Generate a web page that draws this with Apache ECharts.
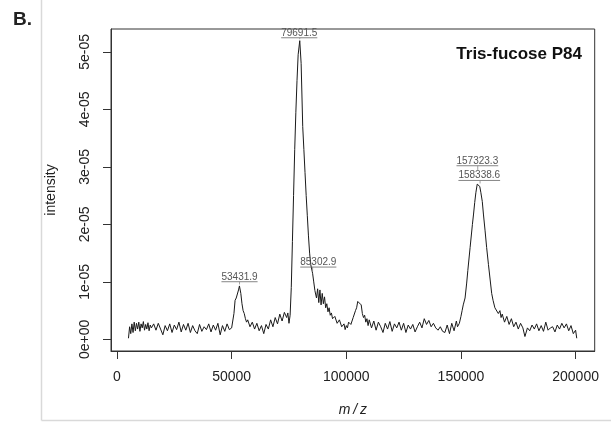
<!DOCTYPE html>
<html><head><meta charset="utf-8">
<script src="https://cdn.jsdelivr.net/npm/echarts@6/dist/echarts.min.js"></script>
<style>html,body{margin:0;padding:0;background:#fff}#c{width:611px;height:423px}</style>
</head><body><div id="c"></div>
<script>
// m/z positions of the spectrum trace
const mz = [
5000,5500,6000,6500,7000,7500,8000,8500,9000,9500,10000,10500,11000,11500,12000,12500,13000,13500,14000,14500,15000,
16000,17000,18000,19000,20000,21000,22000,23000,24000,25000,26000,27000,28000,29000,30000,31000,32000,33000,34000,35000,
36000,37000,38000,39000,40000,41000,42000,43000,44000,45000,46000,47000,48000,49000,50000,50500,51000,51500,52000,52500,
53000,53400,54000,54500,55000,55500,56000,56500,57000,58000,59000,60000,61000,62000,63000,64000,65000,66000,67000,68000,
69000,70000,71000,72000,73000,74000,74500,75000,75500,76000,76500,77000,77500,78000,78500,79000,79700,80300,81000,81500,
82000,82500,83000,83500,84000,84500,85300,85800,86300,87000,87500,88000,88500,89000,89500,90000,90500,91000,91500,92000,
92500,93000,93500,94000,95000,96000,97000,98000,99000,99500,100000,100500,101000,102000,103000,104000,104500,105000,105700,106500,
107000,107500,108000,108500,109000,109500,110000,111000,112000,113000,114000,115000,116000,117000,118000,119000,120000,121000,122000,123000,
124000,125000,126000,127000,128000,129000,130000,131000,132000,133000,134000,135000,136000,137000,138000,139000,140000,141000,142000,143000,
144000,145000,146000,147000,148000,148500,149300,150000,150500,151000,151800,152500,153000,154000,155000,155500,156000,156500,157100,157600,
158200,158700,159300,159800,160500,161200,162000,162700,163400,164000,164800,165500,166300,167000,167500,168000,169000,170000,171000,172000,
173000,174000,175000,176000,177000,177900,179000,180000,181000,182000,183000,184000,185000,186000,187000,188000,189000,190000,191000,192000,
193000,194000,195000,196000,197000,198000,199000,200000,200500
];
// intensity in units of 1e-05
const intensity = [
0.02,0.22,0.10,0.27,0.12,0.30,0.15,0.28,0.18,0.30,0.14,0.27,0.20,0.31,0.16,0.26,0.18,0.29,0.15,0.25,0.20,
0.27,0.16,0.28,0.18,0.08,0.24,0.15,0.27,0.12,0.25,0.17,0.30,0.13,0.26,0.16,0.28,0.12,0.24,0.15,0.10,
0.26,0.14,0.22,0.17,0.27,0.13,0.25,0.16,0.28,0.08,0.24,0.14,0.27,0.17,0.20,0.22,0.45,0.68,0.72,0.74,
0.86,0.93,0.80,0.62,0.50,0.45,0.36,0.30,0.34,0.22,0.30,0.18,0.28,0.15,0.24,0.10,0.26,0.18,0.34,0.22,
0.38,0.27,0.44,0.32,0.47,0.38,0.46,0.28,0.42,0.90,1.70,2.50,3.30,3.95,4.50,4.95,5.195,4.80,3.70,3.30,
2.90,2.50,2.15,1.80,1.50,1.30,1.15,1.00,0.85,0.72,0.88,0.64,0.86,0.60,0.80,0.62,0.74,0.55,0.62,0.48,
0.55,0.42,0.46,0.36,0.40,0.28,0.34,0.22,0.27,0.17,0.24,0.20,0.30,0.26,0.38,0.50,0.55,0.66,0.65,0.60,
0.45,0.38,0.42,0.30,0.36,0.24,0.34,0.20,0.32,0.16,0.30,0.22,0.12,0.28,0.18,0.31,0.14,0.27,0.20,0.30,
0.16,0.28,0.12,0.25,0.18,0.26,0.13,0.22,0.30,0.20,0.36,0.26,0.33,0.22,0.28,0.20,0.16,0.22,0.14,0.12,
0.25,0.10,0.28,0.15,0.32,0.22,0.28,0.40,0.50,0.60,0.72,0.98,1.20,1.60,2.00,2.18,2.38,2.55,2.70,2.70,
2.66,2.55,2.40,2.18,1.90,1.60,1.30,1.05,0.80,0.68,0.55,0.52,0.45,0.50,0.38,0.44,0.30,0.40,0.26,0.36,
0.22,0.30,0.18,0.28,0.20,0.05,0.20,0.15,0.25,0.18,0.27,0.15,0.24,0.14,0.30,0.16,0.20,0.22,0.13,0.25,
0.18,0.28,0.20,0.27,0.15,0.24,0.10,0.16,0.02
];
const xTicks = [0, 50000, 100000, 150000, 200000];
const yTicks = [0, 1, 2, 3, 4, 5];
const yTickLabels = ['0e+00', '1e-05', '2e-05', '3e-05', '4e-05', '5e-05'];
const peakMz = [53431.9, 79691.5, 85302.9, 157323.3, 158338.6];
const peakIntensity = [0.93, 5.195, 1.15, 2.70, 2.66];
const peakLabels = ['53431.9', '79691.5', '85302.9', '157323.3', '158338.6'];

// label placement (pixels relative to the peak point)
const labelLayout = [
  {dx: 0, dy: -9, end: -1.5},
  {dx: -0.5, dy: -7.7, end: -1.5},
  {dx: 5.7, dy: -11, end: -1.5},
  {dx: -0.4, dy: -23.2, end: -14.2},
  {dx: -0.8, dy: -10.8, end: -3}
];

const FONT = '"Liberation Sans", Arial, Helvetica, sans-serif';
const mctx = document.createElement('canvas').getContext('2d');
mctx.font = '10px ' + FONT;
function textW(s) { return mctx.measureText(s).width; }

const line = mz.map((m, i) => [m, intensity[i]]);
const peaks = peakMz.map((m, i) => [m, peakIntensity[i]]);

const chart = echarts.init(document.getElementById('c'), null, {renderer: 'canvas'});
chart.setOption({
  animation: false,
  backgroundColor: '#fff',
  title: [
    {text: 'B.', left: 13, top: 10, padding: 0,
     textStyle: {fontSize: 19, fontWeight: 'bold', color: '#222', fontFamily: FONT}},
    {text: 'Tris-fucose P84', right: 29, top: 46, padding: 0,
     textStyle: {fontSize: 17, fontWeight: 'bold', color: '#111', fontFamily: FONT}}
  ],
  grid: {left: 111, top: 29, right: 16.3, bottom: 72, show: true,
         borderColor: '#333', borderWidth: 1, backgroundColor: 'transparent'},
  xAxis: {
    type: 'value', min: -2617, max: 208330,
    name: 'm\u2009/\u2009z', nameLocation: 'middle', nameGap: 52,
    nameTextStyle: {fontSize: 14, fontStyle: 'italic', color: '#222', fontFamily: FONT},
    axisLine: {show: true, onZero: false, lineStyle: {color: '#333', width: 1}},
    axisTick: {show: true, inside: false, length: 8, customValues: xTicks,
               lineStyle: {color: '#333', width: 1}},
    axisLabel: {customValues: xTicks, margin: 19, fontSize: 14, color: '#222', fontFamily: FONT,
                formatter: v => String(v)},
    splitLine: {show: false}
  },
  yAxis: {
    type: 'value', min: -0.2017, max: 5.398,
    name: 'intensity', nameLocation: 'middle', nameGap: 53,
    nameTextStyle: {fontSize: 14, color: '#222', fontFamily: FONT},
    axisLine: {show: true, onZero: false, lineStyle: {color: '#333', width: 1}},
    axisTick: {show: true, inside: false, length: 8, customValues: yTicks,
               lineStyle: {color: '#333', width: 1}},
    axisLabel: {customValues: yTicks, margin: 19, rotate: 90, fontSize: 14, color: '#222', fontFamily: FONT,
                formatter: v => yTickLabels[yTicks.indexOf(Math.round(v))] || ''},
    splitLine: {show: false}
  },
  graphic: [
    {type: 'line', shape: {x1: 41.5, y1: 0, x2: 41.5, y2: 420.5},
     style: {stroke: '#d9d9d9', lineWidth: 1.5}, silent: true},
    {type: 'line', shape: {x1: 41.5, y1: 420.5, x2: 611, y2: 420.5},
     style: {stroke: '#d9d9d9', lineWidth: 1.5}, silent: true}
  ],
  series: [
    {type: 'line', data: line, showSymbol: false, symbol: 'none',
     lineStyle: {color: '#1a1a1a', width: 1}, z: 3},
    {type: 'custom', data: peaks, clip: false, z: 4,
     encode: {x: 0, y: 1},
     renderItem: function (params, api) {
       const i = params.dataIndex;
       const p = api.coord([api.value(0), api.value(1)]);
       const L = labelLayout[i];
       const tx = p[0] + L.dx, ty = p[1] + L.dy;
       const w = textW(peakLabels[i]);
       const uy = ty + 4.8;
       const children = [
         {type: 'text', x: tx, y: ty,
          style: {text: peakLabels[i], fill: '#555', font: '10px ' + FONT,
                  align: 'center', verticalAlign: 'middle'}},
         {type: 'line', shape: {x1: tx - w / 2, y1: uy, x2: tx + w / 2, y2: uy},
          style: {stroke: '#666', lineWidth: 0.8}}
       ];
       const yEnd = p[1] + L.end;
       if (yEnd > uy + 0.5) {
         children.push({type: 'line', shape: {x1: p[0], y1: uy, x2: p[0], y2: yEnd},
                        style: {stroke: '#888', lineWidth: 0.8}});
       }
       return {type: 'group', children: children};
     }}
  ]
});
</script>
</body></html>
